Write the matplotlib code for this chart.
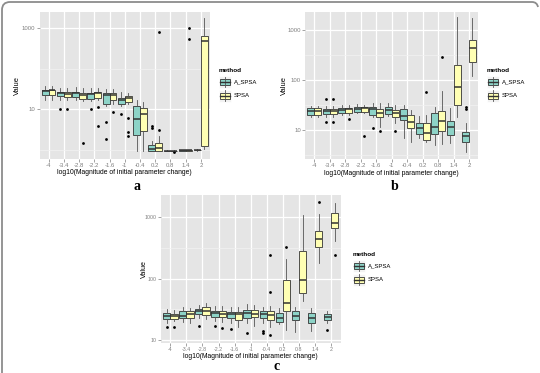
import numpy as np
import matplotlib
matplotlib.use('Agg')
import matplotlib.pyplot as plt
from matplotlib.patches import Rectangle, PathPatch
from matplotlib.path import Path
from matplotlib.lines import Line2D
from matplotlib.ticker import FixedLocator, NullFormatter

plt.rcParams['font.family'] = ['Liberation Sans', 'DejaVu Sans']

cats = ['-4', '-3.4', '-2.8', '-2.2', '-1.6', '-1', '-0.4', '0.2', '0.8', '1.4', '2']
methods = ['A_SPSA', 'SPSA']
colors = ['#8DD3C7', '#FFFFB3']

# box stats per category: (whisker low, q1, median, q3, whisker high)
a_aspsa = [(17.4, 23.1, 28.5, 30.8, 37.0), (16.7, 21.0, 24.9, 26.9, 34.5),
           (16.7, 20.2, 25.4, 27.4, 35.8), (16.1, 18.4, 23.6, 25.4, 33.8),
           (11.9, 13.8, 22.2, 25.4, 32.5), (11.9, 13.8, 17.4, 19.5, 26.9),
           (0.93, 2.4, 5.9, 11.9, 16.7), (0.93, 0.96, 1.06, 1.36, 1.7),
           (0.92, 0.93, 0.95, 0.97, 0.98), (0.95, 0.96, 0.98, 1.0, 1.01),
           (0.97, 0.98, 1.0, 1.02, 1.03)]
a_aspsa_out = [[], [10], [], [10.4], [4.85, 1.87], [7.8], [], [3.8, 3.4], [], [], []]
a_spsa = [(17.4, 23.1, 29.6, 30.8, 37.0), (16.7, 20.2, 24.4, 26.9, 34.5),
          (16.1, 18.4, 23.1, 25.9, 34.5), (16.7, 19.1, 25.4, 26.9, 34.5),
          (13.8, 16.7, 22.2, 25.9, 32.5), (13.8, 15.2, 19.1, 21.0, 25.4),
          (0.93, 2.9, 7.8, 11.0, 15.0), (0.93, 0.96, 1.12, 1.46, 2.26),
          (0.92, 0.93, 0.95, 0.97, 0.98), (0.95, 0.96, 0.98, 1.0, 1.01),
          (1.06, 1.23, 494, 646, 1770)]
a_spsa_out = [[], [10], [1.49], [11.4, 3.8], [8.6], [6.1, 2.85, 2.27], [], [3.1, 794], [0.9], [1038, 555], []]

b_aspsa = [(18.5, 20.0, 24.0, 27.1, 30.2), (18.5, 20.6, 24.0, 25.9, 30.2),
           (20.0, 21.5, 25.1, 28.0, 31.6), (21.5, 23.3, 26.7, 29.3, 32.6),
           (18.5, 20.0, 25.9, 29.3, 35.2), (19.0, 20.6, 24.7, 28.4, 34.1),
           (7.0, 15.8, 19.0, 25.9, 31.6), (6.8, 8.3, 10.8, 13.6, 19.0),
           (4.9, 8.3, 11.3, 22.0, 29.0), (5.4, 7.9, 11.3, 15.4, 27.0),
           (3.7, 5.8, 7.6, 9.3, 14.0)]
b_aspsa_out = [[], [41, 14.5], [], [], [11.1], [], [], [], [], [], [29.3, 25.9]]
b_spsa = [(18.5, 20.0, 24.0, 27.1, 30.2), (18.5, 20.6, 24.0, 25.9, 30.2),
          (20.0, 22.2, 25.9, 28.0, 31.6), (21.5, 23.3, 27.1, 29.3, 31.6),
          (11.7, 18.5, 21.5, 25.9, 34.1), (14.0, 17.9, 21.5, 25.1, 31.6),
          (5.8, 11.1, 14.7, 20.0, 25.0), (5.8, 6.3, 8.8, 14.0, 20.0),
          (5.2, 9.5, 15.1, 24.0, 61.0), (18.5, 31.6, 73.6, 200, 1790),
          (120, 233, 430, 631, 1710)]
b_spsa_out = [[], [41, 14.5], [16.6], [7.6], [9.7], [9.7], [], [58], [284], [], []]

c_aspsa = [(19.2, 21.7, 24.6, 27.2, 31.6), (19.9, 23.1, 24.6, 29.7, 34.9),
           (22.5, 26.2, 29.7, 31.6, 37.2), (20.7, 24.0, 27.2, 29.7, 35.8),
           (19.2, 22.5, 26.6, 29.0, 34.9), (19.2, 23.1, 27.2, 30.8, 38.2),
           (19.2, 23.1, 26.6, 29.7, 34.9), (18.0, 19.9, 22.5, 27.9, 32.8),
           (13.7, 21.2, 24.6, 29.7, 34.9), (14.2, 18.7, 23.1, 27.9, 32.8),
           (19.2, 21.2, 23.4, 26.2, 29.7)]
c_aspsa_out = [[16.5], [], [17.1], [16.9], [14.9], [13.2], [14.0, 12.9], [], [], [], [14.6]]
c_spsa = [(20.7, 22.3, 24.6, 26.6, 30.8), (19.2, 23.1, 26.2, 29.7, 33.6),
          (21.7, 25.6, 29.7, 34.9, 39.6), (19.9, 23.6, 26.6, 29.7, 35.8),
          (16.5, 21.2, 26.2, 29.0, 34.9), (16.9, 24.0, 26.6, 30.8, 37.2),
          (16.5, 21.2, 25.6, 30.1, 35.8), (14.6, 29.7, 40.6, 95, 207),
          (43, 57.7, 95, 286, 1090), (178, 333, 438, 598, 1133),
          (417, 680, 818, 1161, 1734)]
c_spsa_out = [[16.1], [], [], [15.9], [], [], [12.1, 61, 246], [332], [], [1800], [246]]

W, H = 540, 373
fig = plt.figure(figsize=(W / 100, H / 100), dpi=100)


def fx(x):
    return x / W


def fy(y):
    return 1 - y / H


def to_stats(rows, outs):
    st = []
    for r, o in zip(rows, outs):
        st.append(dict(whislo=r[0], q1=r[1], med=r[2], q3=r[3], whishi=r[4], fliers=o))
    return st


def panel(rect, a_rows, a_out, s_rows, s_out, ylim, yticks, yminor, tsize=4.3):
    x0, y0, x1, y1 = rect
    ax = fig.add_axes([fx(x0), fy(y1), (x1 - x0) / W, (y1 - y0) / H])
    ax.set_facecolor('#E5E5E5')
    ax.set_yscale('log')
    pos = np.arange(len(cats))
    for rows, outs, off, col in [(a_rows, a_out, -0.225, colors[0]), (s_rows, s_out, 0.225, colors[1])]:
        ax.bxp(to_stats(rows, outs), positions=pos + off, widths=0.45, patch_artist=True,
               showcaps=False, manage_ticks=False,
               boxprops=dict(facecolor=col, edgecolor='#333333', linewidth=0.6),
               medianprops=dict(color='#333333', linewidth=1.1),
               whiskerprops=dict(color='#555555', linewidth=0.6),
               flierprops=dict(marker='o', markersize=2, markerfacecolor='black',
                               markeredgecolor='none'))
    ax.set_xlim(-0.6, len(cats) - 0.4)
    ax.set_ylim(*ylim)
    ax.set_xticks(pos)
    ax.set_xticklabels(cats)
    ax.set_yticks(yticks)
    ax.set_yticklabels([str(t) for t in yticks])
    ax.yaxis.set_minor_locator(FixedLocator(yminor))
    ax.yaxis.set_minor_formatter(NullFormatter())
    ax.set_axisbelow(True)
    ax.grid(which='major', color='white', linewidth=0.9)
    ax.grid(which='minor', axis='y', color='#F2F2F2', linewidth=0.5)
    ax.tick_params(which='major', length=2, width=0.5, color='#7F7F7F',
                   labelsize=tsize, labelcolor='#7F7F7F', pad=1)
    ax.tick_params(which='minor', length=0)
    for s in ax.spines.values():
        s.set_visible(False)
    return ax


def legend(x, y):
    fig.text(fx(x), fy(y), 'method', fontsize=4.6, fontweight='bold', ha='left', va='center')
    for k in range(2):
        top = y + 6 + k * 13.5
        fig.patches.append(Rectangle((fx(x), fy(top + 12)), 12 / W, 12 / H, transform=fig.transFigure,
                                     facecolor='#F2F2F2', edgecolor='white', linewidth=0.5))
        fig.lines.append(Line2D([fx(x + 6), fx(x + 6)], [fy(top + 0.8), fy(top + 11.2)],
                                transform=fig.transFigure, color='#555555', linewidth=0.6))
        fig.patches.append(Rectangle((fx(x + 1.2), fy(top + 9)), 9.6 / W, 6 / H, transform=fig.transFigure,
                                     facecolor=colors[k], edgecolor='#333333', linewidth=0.6))
        fig.lines.append(Line2D([fx(x + 1.2), fx(x + 10.8)], [fy(top + 6), fy(top + 6)],
                                transform=fig.transFigure, color='#333333', linewidth=1.0))
        fig.text(fx(x + 14.5), fy(top + 6), methods[k], fontsize=4.3, ha='left', va='center')


xlab = 'log10(Magnitude of initial parameter change)'

panel((39.5, 11.7, 210, 159.3), a_aspsa, a_aspsa_out, a_spsa, a_spsa_out,
      (0.59, 2570), [10, 1000], [1, 100])
fig.text(fx(17), fy(85.5), 'Value', rotation=90, fontsize=5.4, ha='center', va='center')
fig.text(fx(124.75), fy(173), xlab, fontsize=4.9, ha='center', va='center')
legend(219, 70)

panel((305, 11.7, 478.3, 159.3), b_aspsa, b_aspsa_out, b_spsa, b_spsa_out,
      (2.59, 2330), [10, 100, 1000], [10 ** 0.5, 10 ** 1.5, 10 ** 2.5])
fig.text(fx(284), fy(85.5), 'Value', rotation=90, fontsize=5.4, ha='center', va='center')
fig.text(fx(391.6), fy(173.3), xlab, fontsize=4.9, ha='center', va='center')
legend(487, 70)

panel((160.7, 195, 340.7, 343.3), c_aspsa, c_aspsa_out, c_spsa, c_spsa_out,
      (8.8, 2310), [10, 100, 1000], [10 ** 1.5, 10 ** 2.5], tsize=3.8)
fig.text(fx(144), fy(269), 'Value', rotation=90, fontsize=5.2, ha='center', va='center')
fig.text(fx(250.7), fy(356), xlab, fontsize=4.9, ha='center', va='center')
legend(353, 254)

# panel letters
for lab, x, y in [('a', 137, 187), ('b', 395, 187), ('c', 277, 367)]:
    fig.text(fx(x), fy(y), lab, fontsize=10, fontweight='bold', family='Liberation Serif',
             ha='center', va='center')

# frame around the figure (top and left edges, rounded corner)
verts = [(fx(2), fy(373)), (fx(2), fy(10)), (fx(2), fy(2)), (fx(10), fy(2)),
         (fx(532), fy(2)), (fx(537), fy(2)), (fx(538), fy(7))]
codes = [Path.MOVETO, Path.LINETO, Path.CURVE3, Path.CURVE3, Path.LINETO, Path.CURVE3, Path.CURVE3]
fig.patches.append(PathPatch(Path(verts, codes), transform=fig.transFigure, fill=False,
                             edgecolor='#8C8C8C', linewidth=1.3))

plt.savefig('out.png', dpi=100)
